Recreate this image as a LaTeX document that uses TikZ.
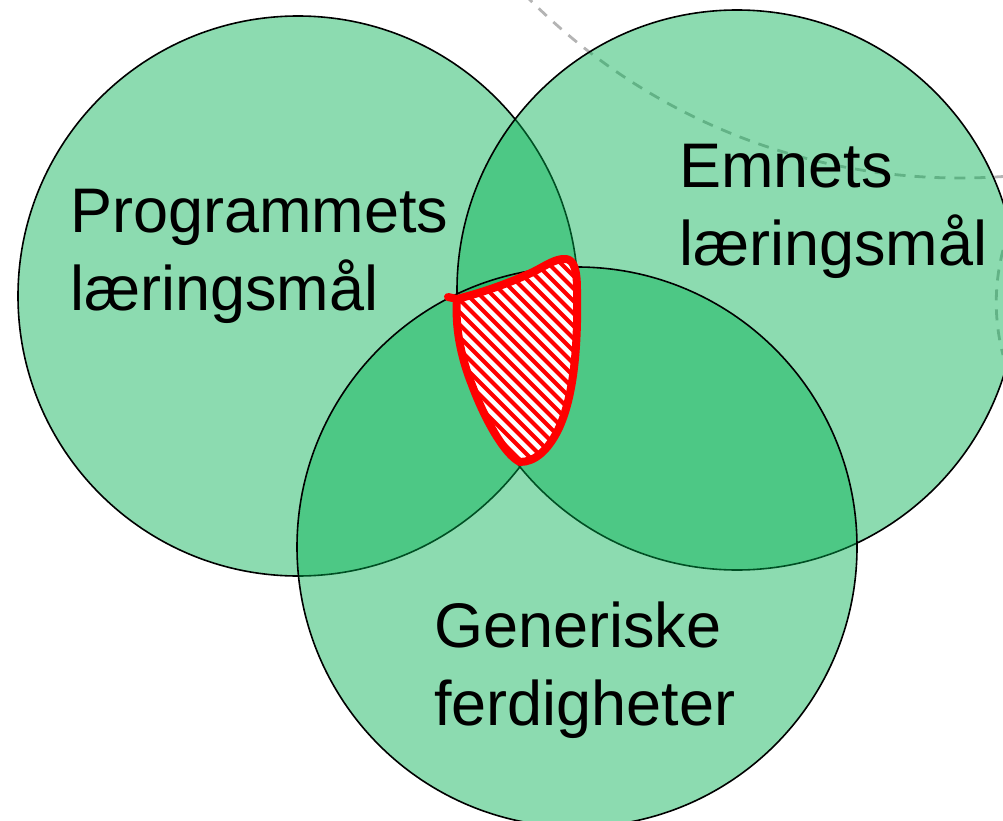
\documentclass[tikz,border=0pt]{standalone}
\usepackage{fontspec}
\setmainfont{Liberation Sans}
\definecolor{setgreen}{HTML}{00B050}
\definecolor{guide}{RGB}{180,180,180}
\tikzset{
  setcircle/.style={circle, draw=black, line width=1.6pt, fill=setgreen,
    fill opacity=0.45, minimum size=560pt, inner sep=0pt},
  setlabel/.style={anchor=base west, align=left, inner sep=0pt,
    font=\fontsize{63}{78}\selectfont},
  guideline/.style={draw=guide, line width=2.8pt, dash pattern=on 11pt off 9pt},
  highlight/.style={draw=red, line width=8pt, line join=round, line cap=round}
}
\begin{document}
\begin{tikzpicture}[x=1pt, y=-1pt]
\useasboundingbox (0,0) rectangle (1003,821);

% faint dashed guides in the background
\begin{scope}
  \clip (0,0) rectangle (1003,821);
  \path[guideline] (960,-430) circle[radius=608pt];
  \coordinate (g1) at (1003,250);
  \coordinate (g2) at (1003,355);
  \path[guideline] (g1) .. controls (994,285) and (994,320) .. (g2);
\end{scope}

% the three sets
\node[setcircle] (prog) at (298,296) {};
\node[setcircle] (emne) at (737,290) {};
\node[setcircle] (gen)  at (577,547) {};

% hatched common area
\def\commonarea{(448,297) -- (457,299) .. controls (480,293) and (505,285) .. (533,272)
  .. controls (545,266) and (556,258) .. (566,259) .. controls (574,260) and (577,270) .. (577,290)
  .. controls (578,340) and (575,395) .. (558,430) .. controls (548,450) and (535,462) .. (520,462)
  .. controls (505,455) and (485,420) .. (472,385) .. controls (460,355) and (455,325) .. (457,299)}
\begin{scope}
  \clip \commonarea;
  \fill[white] (430,240) rectangle (600,480);
  \foreach \c in {-40,-27.5,...,340}
    \draw[red, line width=4pt] (\c+240,240) -- (\c+480,480);
\end{scope}
\draw[highlight] \commonarea;

% labels (anchored at the baseline of the second line)
\node[setlabel] (progtxt) at (70,310) {Programmets\\læringsmål};
\node[setlabel] (emnetxt) at (679,265) {Emnets\\læringsmål};
\node[setlabel] (gentxt)  at (434,725) {Generiske\\ferdigheter};
\end{tikzpicture}
\end{document}
